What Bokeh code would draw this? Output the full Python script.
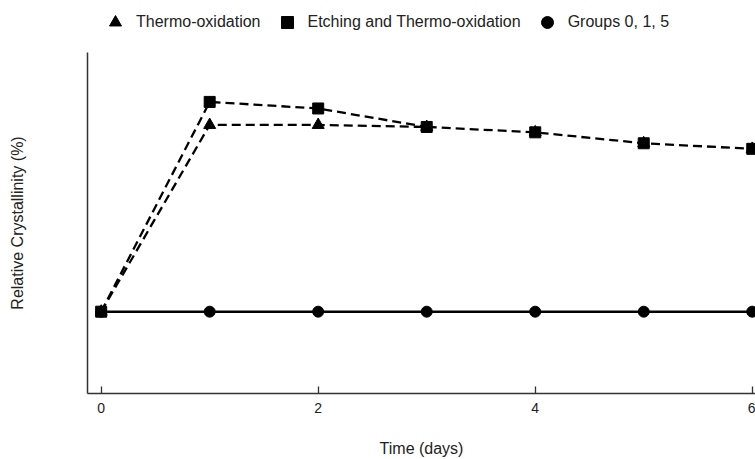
from bokeh.plotting import figure
from bokeh.layouts import column
from bokeh.models import Range1d, FixedTicker, Legend, LegendItem
from bokeh.embed import file_html
from bokeh.resources import INLINE

# Data (relative crystallinity, arbitrary units; baseline = 100)
days = [0, 1, 2, 3, 4, 5, 6]
thermo_oxidation = [100, 193.9, 193.9, 192.9, 190.2, 184.7, 181.9]
etching_thermo = [100, 205.5, 202.2, 192.9, 190.2, 184.7, 181.9]
groups_0_1_5 = [100, 100, 100, 100, 100, 100, 100]
x_ticks = [0, 2, 4, 6]
labels = ["Thermo-oxidation", "Etching and Thermo-oxidation", "Groups 0, 1, 5"]
markers = ["triangle", "square", "circle"]

FONT = "Liberation Sans"

# ---- main plot ----
p = figure(width=755, height=407, output_backend="svg", toolbar_location=None,
           x_range=Range1d(-0.126, 6.03), y_range=Range1d(58.85, 230.35),
           min_border_left=87, min_border_right=0, min_border_top=0, min_border_bottom=64)
p.outline_line_color = None
p.grid.visible = False
p.background_fill_color = "white"

# baseline
p.line(days, groups_0_1_5, line_color="black", line_width=2.6)
p.scatter(days, groups_0_1_5, marker="circle", size=11, color="black")
# thermo-oxidation
p.line(days, thermo_oxidation, line_color="black", line_width=2.3, line_dash="9 5")
p.scatter(days, thermo_oxidation, marker="triangle", size=12, color="black")
# etching and thermo-oxidation (from day 3 on it coincides with the thermo-oxidation line)
p.line(days[:4], etching_thermo[:4], line_color="black", line_width=2.3, line_dash="9 5")
p.scatter(days, etching_thermo, marker="square", size=11, color="black")

xa = p.xaxis[0]
xa.ticker = FixedTicker(ticks=x_ticks)
xa.minor_tick_line_color = None
xa.major_tick_in = 7
xa.major_tick_out = 0
xa.axis_line_color = "#333333"
xa.axis_line_width = 1.5
xa.major_tick_line_color = "#333333"
xa.major_tick_line_width = 1.3
xa.major_label_text_font = FONT
xa.major_label_text_font_size = "14px"
xa.major_label_text_color = "#222222"
xa.major_label_standoff = 9
xa.axis_label = "Time (days)"
xa.axis_label_text_font = FONT
xa.axis_label_text_font_size = "16px"
xa.axis_label_text_font_style = "normal"
xa.axis_label_text_color = "#222222"
xa.axis_label_standoff = 24

ya = p.yaxis[0]
ya.ticker = FixedTicker(ticks=[150])
ya.minor_tick_line_color = None
ya.major_tick_line_color = None
ya.major_label_text_font_size = "0px"
ya.major_label_text_alpha = 0
ya.axis_line_color = "#333333"
ya.axis_line_width = 1.5
ya.axis_label = "Relative Crystallinity (%)"
ya.axis_label_text_font = FONT
ya.axis_label_text_font_size = "16px"
ya.axis_label_text_font_style = "normal"
ya.axis_label_text_color = "#222222"
ya.axis_label_standoff = 56

# ---- legend strip (its frame is aligned with the main frame by the column layout) ----
lg = figure(width=755, height=52, output_backend="svg", toolbar_location=None,
            x_range=Range1d(0, 1), y_range=Range1d(0, 1),
            x_axis_type=None, y_axis_type=None,
            min_border_left=0, min_border_right=0, min_border_top=0, min_border_bottom=0)
lg.outline_line_color = None
lg.grid.visible = False
items = []
for lab, mk, ys in zip(labels, markers, [thermo_oxidation, etching_thermo, groups_0_1_5]):
    # points lie outside this strip's y-range, so only the legend glyph shows
    r = lg.scatter(x=days, y=ys, marker=mk, size=12, color="black")
    items.append(LegendItem(label=lab, renderers=[r]))
legend = Legend(items=items, orientation="horizontal", location=(13, 15),
                glyph_width=30, glyph_height=30, label_standoff=6, spacing=11,
                padding=0, margin=0, border_line_color=None, background_fill_alpha=0,
                label_text_font=FONT, label_text_font_size="16px", label_text_color="#222222")
lg.add_layout(legend, "center")

layout = column(lg, p, spacing=0)
open("out.html", "w").write(file_html(layout, INLINE))
